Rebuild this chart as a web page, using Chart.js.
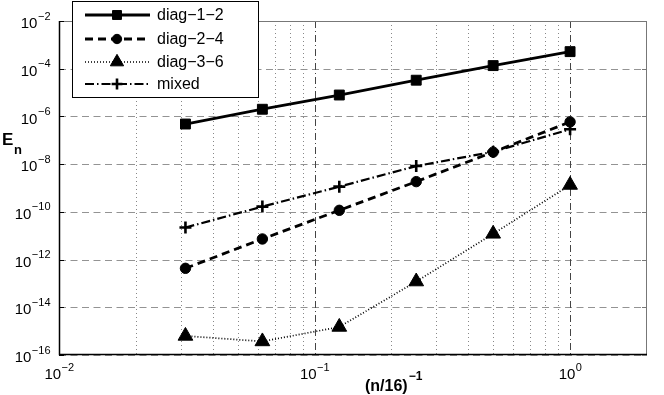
<!DOCTYPE html>
<html>
<head>
<meta charset="UTF-8" />
<title>E_n convergence</title>
<script src="https://cdn.jsdelivr.net/npm/chart.js"></script>
<style>
  body { margin: 0; background: #fff; }
  #wrap { width: 664px; height: 395px; }
</style>
</head>
<body>
<div id="wrap"><canvas id="graphique" width="664" height="395"></canvas></div>
<script>
// (n/16)^-1 values for n = 512, 256, 128, 64, 32, 16
const xVals = [1 / 32, 1 / 16, 1 / 8, 1 / 4, 1 / 2, 1];
const diag12 = [4.8e-7, 2.0e-6, 7.9e-6, 3.3e-5, 1.35e-4, 5.2e-4];
const diag24 = [4.3e-13, 7.3e-12, 1.16e-10, 1.85e-9, 3.2e-8, 5.9e-7];
const diag36 = [6.3e-16, 3.7e-16, 1.5e-15, 1.2e-13, 1.2e-11, 1.34e-9];
const mixed = [2.2e-11, 1.66e-10, 1.14e-9, 8.3e-9, 3.3e-8, 2.9e-7];

const xTickExps = [-2, -1, 0];
const yTickExps = [-16, -14, -12, -10, -8, -6, -4, -2];
const xMinorTicks = [0.02, 0.03, 0.04, 0.05, 0.06, 0.07, 0.08, 0.09,
                     0.2, 0.3, 0.4, 0.5, 0.6, 0.7, 0.8, 0.9];

const FONT = '"Liberation Sans", Arial, Helvetica, sans-serif';
const MINUS = '\u2212';

const series = [
  { label: 'diag' + MINUS + '1' + MINUS + '2', data: diag12, dash: [], width: 2.8, style: 'rect', radius: 7 },
  { label: 'diag' + MINUS + '2' + MINUS + '4', data: diag24, dash: [8, 5], width: 2.8, style: 'circle', radius: 5.2 },
  { label: 'diag' + MINUS + '3' + MINUS + '6', data: diag36, dash: [1, 2], width: 1.7, style: 'triangle', radius: 8.5 },
  { label: 'mixed', data: mixed, dash: [9, 3, 1.5, 3], width: 2.2, style: 'cross', radius: 6 }
];

const datasets = series.map(s => ({
  label: s.label,
  data: xVals.map((x, i) => ({ x: x, y: s.data[i] })),
  showLine: true,
  borderColor: '#000',
  backgroundColor: '#000',
  borderWidth: s.width,
  borderDash: s.dash,
  pointStyle: s.style,
  pointRadius: s.radius,
  pointBorderWidth: s.style === 'cross' ? 2.6 : 1,
  pointBorderColor: '#000',
  pointBackgroundColor: '#000',
  tension: 0
}));

function drawPow(ctx, x, y, exp, align, size) {
  const base = '10';
  const sup = exp < 0 ? MINUS + Math.abs(exp) : String(exp);
  const supSize = Math.round(size * 0.75);
  ctx.font = size + 'px ' + FONT;
  const wb = ctx.measureText(base).width;
  ctx.font = supSize + 'px ' + FONT;
  const ws = ctx.measureText(sup).width;
  let left;
  if (align === 'right') left = x - wb - ws;
  else left = x - (wb + ws) / 2;
  ctx.textAlign = 'left';
  ctx.textBaseline = 'middle';
  ctx.font = size + 'px ' + FONT;
  ctx.fillText(base, left, y);
  ctx.font = supSize + 'px ' + FONT;
  ctx.fillText(sup, left + wb + 0.5, y - size * 0.5);
}

const gridPlugin = {
  id: 'gridPlugin',
  beforeDatasetsDraw(chart) {
    const ctx = chart.ctx;
    const a = chart.chartArea;
    const xs = chart.scales.x, ys = chart.scales.y;
    ctx.save();
    // horizontal dashed grid
    ctx.strokeStyle = '#939393';
    ctx.lineWidth = 1;
    ctx.setLineDash([7, 4.5]);
    yTickExps.forEach(e => {
      const y = Math.round(ys.getPixelForValue(Math.pow(10, e))) + 0.5;
      ctx.beginPath(); ctx.moveTo(a.left, y); ctx.lineTo(a.right, y); ctx.stroke();
    });
    // vertical minor dotted grid
    ctx.strokeStyle = '#888';
    ctx.setLineDash([1, 3]);
    xMinorTicks.forEach(v => {
      const x = Math.round(xs.getPixelForValue(v)) + 0.5;
      ctx.beginPath(); ctx.moveTo(x, a.top); ctx.lineTo(x, a.bottom); ctx.stroke();
    });
    // vertical major dash-dot grid
    ctx.strokeStyle = '#444';
    ctx.setLineDash([7, 3, 1, 3]);
    xTickExps.forEach(e => {
      const x = Math.round(xs.getPixelForValue(Math.pow(10, e))) + 0.5;
      if (x <= a.left + 1) return;
      ctx.beginPath(); ctx.moveTo(x, a.top); ctx.lineTo(x, a.bottom); ctx.stroke();
    });
    ctx.restore();
  },
  afterDatasetsDraw(chart) {
    const ctx = chart.ctx;
    const a = chart.chartArea;
    const xs = chart.scales.x, ys = chart.scales.y;
    ctx.save();
    ctx.setLineDash([]);
    // frame
    ctx.lineWidth = 1;
    ctx.strokeStyle = '#777';
    ctx.beginPath();
    ctx.moveTo(a.left, a.top + 0.5); ctx.lineTo(a.right - 0.5, a.top + 0.5); ctx.lineTo(a.right - 0.5, a.bottom);
    ctx.stroke();
    ctx.strokeStyle = '#000';
    ctx.lineWidth = 1.5;
    ctx.beginPath();
    ctx.moveTo(a.left + 0.5, a.top); ctx.lineTo(a.left + 0.5, a.bottom - 0.5); ctx.lineTo(a.right, a.bottom - 0.5);
    ctx.stroke();
    // small tick marks
    ctx.lineWidth = 1;
    yTickExps.forEach(e => {
      const y = Math.round(ys.getPixelForValue(Math.pow(10, e))) + 0.5;
      ctx.strokeStyle = '#000';
      ctx.beginPath(); ctx.moveTo(a.left, y); ctx.lineTo(a.left + 5, y); ctx.stroke();
      ctx.strokeStyle = '#777';
      ctx.beginPath(); ctx.moveTo(a.right, y); ctx.lineTo(a.right - 5, y); ctx.stroke();
    });

    // tick labels
    ctx.fillStyle = '#000';
    yTickExps.forEach(e => {
      drawPow(ctx, a.left - 9, ys.getPixelForValue(Math.pow(10, e)) + 3, e, 'right', 15);
    });
    xTickExps.forEach(e => {
      drawPow(ctx, xs.getPixelForValue(Math.pow(10, e)), a.bottom + 20, e, 'center', 15);
    });

    // axis titles
    ctx.font = 'bold 16px ' + FONT;
    ctx.textAlign = 'left';
    ctx.textBaseline = 'alphabetic';
    const t1 = '(n/16)';
    const wt = ctx.measureText(t1).width;
    ctx.fillText(t1, 365, 391);
    ctx.font = 'bold 12px ' + FONT;
    ctx.fillText(MINUS + '1', 365 + wt + 1, 380);

    ctx.font = 'bold 17px ' + FONT;
    ctx.fillText('E', 2, 145);
    ctx.font = 'bold 13px ' + FONT;
    ctx.fillText('n', 14, 154);

    // legend
    const lx = 72, ly = 1, lw = 186, lh = 96;
    ctx.fillStyle = '#fff';
    ctx.fillRect(lx, ly, lw, lh);
    ctx.strokeStyle = '#000';
    ctx.lineWidth = 1;
    ctx.strokeRect(lx + 0.5, ly + 0.5, lw, lh);
    const rows = [15, 39, 62, 84];
    chart.data.datasets.forEach((ds, i) => {
      const y = rows[i];
      ctx.strokeStyle = '#000';
      ctx.lineWidth = ds.borderWidth;
      ctx.setLineDash(ds.borderDash);
      ctx.beginPath(); ctx.moveTo(85, y); ctx.lineTo(150, y); ctx.stroke();
      ctx.setLineDash([]);
      ctx.fillStyle = '#000';
      ctx.lineWidth = ds.pointBorderWidth;
      Chart.helpers.drawPoint(ctx, {
        pointStyle: ds.pointStyle,
        radius: ds.pointRadius * 0.9,
        rotation: 0,
        borderWidth: ds.pointBorderWidth
      }, 117, y);
      ctx.fillStyle = '#000';
      ctx.font = '16px ' + FONT;
      ctx.textAlign = 'left';
      ctx.textBaseline = 'middle';
      ctx.fillText(ds.label, 157, y + 1);
    });
    ctx.restore();
  }
};

new Chart(document.getElementById('graphique').getContext('2d'), {
  type: 'scatter',
  data: { datasets: datasets },
  options: {
    responsive: false,
    animation: false,
    layout: { padding: { left: 59, right: 17, top: 21, bottom: 40 } },
    plugins: { legend: { display: false }, tooltip: { enabled: false } },
    scales: {
      x: {
        type: 'logarithmic', min: 0.01, max: 2,
        grid: { display: false }, border: { display: false },
        ticks: { display: false },
        afterFit: s => { s.height = 0; }
      },
      y: {
        type: 'logarithmic', min: 1e-16, max: 1e-2,
        grid: { display: false }, border: { display: false },
        ticks: { display: false },
        afterFit: s => { s.width = 0; }
      }
    },
    clip: false
  },
  plugins: [gridPlugin]
});
</script>
</body>
</html>
